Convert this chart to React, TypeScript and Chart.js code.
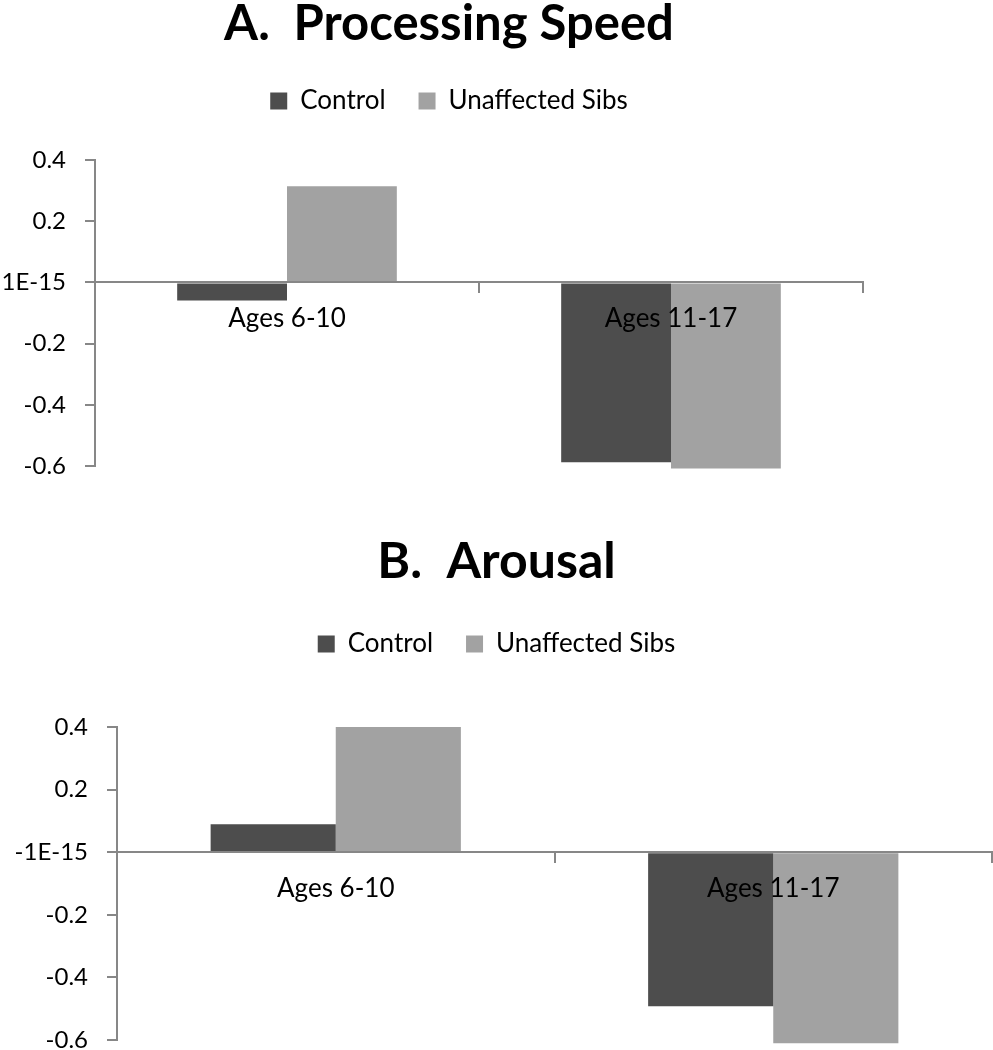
import React, { useEffect, useRef } from 'react';
import { Chart, registerables } from 'chart.js';

Chart.register(...registerables);

const categories = ['Ages 6-10', 'Ages 11-17'];
const seriesNames = ['Control', 'Unaffected Sibs'];
const speedControl = [-0.059, -0.588];
const speedSibs = [0.314, -0.608];
const arousalControl = [0.089, -0.492];
const arousalSibs = [0.4, -0.61];
const yTickValues = [-0.6, -0.4, -0.2, 0, 0.2, 0.4];
const yTickLabelsA = ['-0.6', '-0.4', '-0.2', '1E-15', '0.2', '0.4'];
const yTickLabelsB = ['-0.6', '-0.4', '-0.2', '-1E-15', '0.2', '0.4'];
const titleA = 'A.  Processing Speed';
const titleB = 'B.  Arousal';

const FONT = 'Lato, "Open Sans", sans-serif';
const AXIS = '#878787';
const COLORS = ['#4d4d4d', '#a2a2a2'];

type Params = {
  title: string;
  control: number[];
  sibs: number[];
  tickLabels: string[];
  yWidth: number;
  chartTop: number;
  padBottom: number;
  padRight: number;
  titleSize: number;
  titlePadTop: number;
  titlePadBottom: number;
  legendPad: number;
  legendGap: number;
};

function makeConfig(p: Params): any {
  return {
    type: 'bar',
    data: {
      labels: categories,
      datasets: [
        { label: seriesNames[0], data: p.control, backgroundColor: COLORS[0], borderWidth: 0, clip: false },
        { label: seriesNames[1], data: p.sibs, backgroundColor: COLORS[1], borderWidth: 0, clip: false },
      ],
    },
    options: {
      responsive: false,
      animation: false,
      events: [],
      layout: { padding: 0 },
      datasets: { bar: { barPercentage: 1, categoryPercentage: 0.572 } },
      plugins: {
        tooltip: { enabled: false },
        title: {
          display: true,
          text: p.title,
          color: '#000',
          font: { family: FONT, size: p.titleSize, weight: 'bold', lineHeight: 1 },
          padding: { top: p.titlePadTop, bottom: p.titlePadBottom },
        },
        subtitle: {
          // empty spacer between the legend and the plot area
          display: true,
          text: '',
          weight: 500,
          font: { family: FONT, size: p.legendGap, lineHeight: 1 },
          padding: 0,
        },
        legend: {
          position: 'top',
          labels: {
            boxWidth: 17,
            boxHeight: 17,
            color: '#000',
            font: { family: FONT, size: 26 },
            padding: p.legendPad,
          },
        },
      },
      scales: {
        x: {
          position: { y: 0 },
          offset: true,
          grid: {
            display: true,
            offset: true,
            drawOnChartArea: false,
            drawTicks: true,
            tickLength: 10,
            color: AXIS,
            lineWidth: 2,
            z: 1,
          },
          border: { display: true, color: AXIS, width: 2, z: 1 },
          ticks: { color: '#000', font: { family: FONT, size: 26 }, padding: 11, maxRotation: 0, z: 2 },
        },
        y: {
          min: -0.6,
          max: 0.4,
          afterBuildTicks: (s: any) => {
            s.ticks = yTickValues.map((v) => ({ value: v }));
          },
          afterFit: (s: any) => {
            s.width = p.yWidth;
            s.paddingTop = p.chartTop;
            s.paddingBottom = p.padBottom;
            s.paddingRight = p.padRight;
          },
          grid: {
            display: true,
            drawOnChartArea: false,
            drawTicks: true,
            tickLength: 10,
            color: AXIS,
            lineWidth: 2,
          },
          border: { display: true, color: AXIS, width: 2 },
          ticks: {
            color: '#000',
            font: { family: FONT, size: 24 },
            padding: 19,
            callback: (_v: any, i: number) => p.tickLabels[i],
          },
        },
      },
    },
  };
}

function BarPanel(props: { params: Params; width: number; height: number; top: number }) {
  const ref = useRef<HTMLCanvasElement | null>(null);
  useEffect(() => {
    if (!ref.current) return;
    const chart = new Chart(ref.current, makeConfig(props.params));
    return () => chart.destroy();
  }, []);
  return (
    <canvas
      ref={ref}
      width={props.width}
      height={props.height}
      style={{ position: 'absolute', left: 0, top: props.top, width: props.width, height: props.height }}
    />
  );
}

export default function App() {
  const paramsA: Params = {
    title: titleA,
    control: speedControl,
    sibs: speedSibs,
    tickLabels: yTickLabelsA,
    yWidth: 95,
    chartTop: 160,
    padBottom: 34,
    padRight: 35,
    titleSize: 49,
    titlePadTop: 0,
    titlePadBottom: 6,
    legendPad: 33,
    legendGap: 36,
  };
  const paramsB: Params = {
    title: titleB,
    control: arousalControl,
    sibs: arousalSibs,
    tickLabels: yTickLabelsB,
    yWidth: 117,
    chartTop: 207,
    padBottom: 10,
    padRight: 1,
    titleSize: 50,
    titlePadTop: 17,
    titlePadBottom: 11,
    legendPad: 33,
    legendGap: 60,
  };
  return (
    <div style={{ position: 'absolute', left: 0, top: 0, width: 993, height: 1050, background: '#fff', overflow: 'hidden' }}>
      <BarPanel params={paramsA} width={898} height={500} top={0} />
      <BarPanel params={paramsB} width={993} height={530} top={520} />
    </div>
  );
}
